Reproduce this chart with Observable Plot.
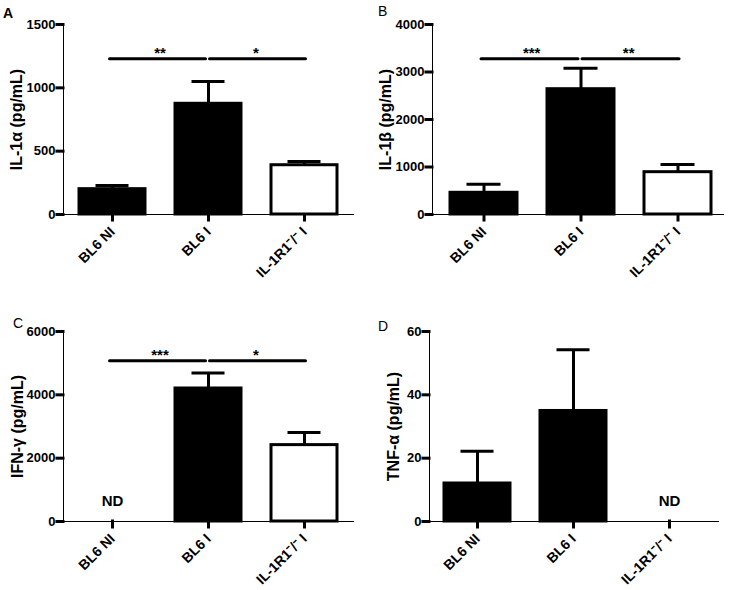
<!DOCTYPE html>
<html>
<head>
<meta charset="utf-8">
<script src="https://cdn.jsdelivr.net/npm/d3@7"></script>
<script src="https://cdn.jsdelivr.net/npm/@observablehq/plot@0.6"></script>
<style>
  body { margin: 0; background: #fff; }
  #fig { position: relative; width: 730px; height: 590px; font-family: "Liberation Sans", Arial, sans-serif; color: #000; }
  .panel { position: absolute; width: 365px; height: 295px; }
  .letter { position: absolute; font-size: 14px; line-height: 1; }
  .cy [aria-label^="x-axis"] line, .cy [aria-label^="x-axis"] path,
  .cy [aria-label^="y-axis"] line, .cy [aria-label^="y-axis"] path,
  .cy .domain, .cy .tick line { stroke-width: 3px; stroke: #000; stroke-linecap: square; }
  .cy g[aria-label^="y-axis"] text { font-size: 13px; font-weight: bold; }
  .cy g[aria-label^="x-axis"] text { font-size: 14px; font-weight: bold; }
</style>
</head>
<body>
<div id="fig"></div>
<script>
// ---- data ----
const groups = ["BL6 NI", "BL6 I", "IL-1R1\u207B/\u207B I"];
const groupFills = ["#000", "#000", "#fff"];

const il1aMean = [200, 874, 389];
const il1aErr = [29, 176, 29];
const il1aTicks = [0, 500, 1000, 1500];
const il1aSig = [{from: "BL6 NI", to: "BL6 I", label: "**"}, {from: "BL6 I", to: "IL-1R1\u207B/\u207B I", label: "*"}];
const il1aSigLevel = 1229;

const il1bMean = [457, 2638, 891];
const il1bErr = [181, 443, 162];
const il1bTicks = [0, 1000, 2000, 3000, 4000];
const il1bSig = [{from: "BL6 NI", to: "BL6 I", label: "***"}, {from: "BL6 I", to: "IL-1R1\u207B/\u207B I", label: "**"}];
const il1bSigLevel = 3277;

const ifngMean = [null, 4200, 2412];
const ifngErr = [null, 486, 398];
const ifngTicks = [0, 2000, 4000, 6000];
const ifngSig = [{from: "BL6 NI", to: "BL6 I", label: "***"}, {from: "BL6 I", to: "IL-1R1\u207B/\u207B I", label: "*"}];
const ifngSigLevel = 5074;
const ifngND = ["BL6 NI"];

const tnfaMean = [12.0, 34.9, null];
const tnfaErr = [10.2, 19.3, null];
const tnfaTicks = [0, 20, 40, 60];
const tnfaND = ["IL-1R1\u207B/\u207B I"];

// ---- panels ----
const panels = [
  {letter: "A", bold: true, left: 0, top: 0, lx: 3, ly: 6, mean: il1aMean, err: il1aErr, ticks: il1aTicks, sig: il1aSig, sigLevel: il1aSigLevel, nd: [],
   ylabel: "IL-1\u03B1 (pg/mL)", ml: 63, mr: 12, mt: 24, mb: 81, labelX: 16, align: 0.5},
  {letter: "B", bold: false, left: 365, top: 0, lx: 13, ly: 4, mean: il1bMean, err: il1bErr, ticks: il1bTicks, sig: il1bSig, sigLevel: il1bSigLevel, nd: [],
   ylabel: "IL-1\u03B2 (pg/mL)", ml: 67, mr: 7, mt: 24, mb: 81, labelX: 20, align: 0.6},
  {letter: "C", bold: false, left: 0, top: 295, lx: 13, ly: 21, mean: ifngMean, err: ifngErr, ticks: ifngTicks, sig: ifngSig, sigLevel: ifngSigLevel, nd: ifngND,
   ylabel: "IFN-\u03B3 (pg/mL)", ml: 63, mr: 12, mt: 36, mb: 69, labelX: 17, align: 0.5},
  {letter: "D", bold: false, left: 365, top: 295, lx: 13, ly: 24, mean: tnfaMean, err: tnfaErr, ticks: tnfaTicks, sig: [], sigLevel: 0, nd: tnfaND,
   ylabel: "TNF-\u03B1 (pg/mL)", ml: 64, mr: 12, mt: 36, mb: 69, labelX: 28, align: 0.5}
];

const W = 365, H = 295, PI = 0.31, PO = 0.15;
const fig = document.getElementById("fig");

for (const p of panels) {
  const data = groups.map((g, i) => ({g, mean: p.mean[i], err: p.err[i], fill: groupFills[i]})).filter(d => d.mean != null);
  const inner = W - p.ml - p.mr;
  const step = inner / (groups.length - PI + 2 * PO);
  const marks = [
    Plot.barY(data, {x: "g", y: "mean", fill: "fill", stroke: "#000", strokeWidth: 3}),
    Plot.ruleX(data, {x: "g", y1: "mean", y2: d => d.mean + d.err, stroke: "#000", strokeWidth: 3}),
    Plot.tickY(data, {x: "g", y: d => d.mean + d.err, stroke: "#000", strokeWidth: 3, insetLeft: 16.5, insetRight: 16.5}),
    Plot.text([p.ylabel], {frameAnchor: "left", textAnchor: "middle", rotate: -90, dx: p.labelX - p.ml, fontSize: 16, fontWeight: "bold", text: d => d})
  ];
  p.sig.forEach((s, k) => {
    marks.push(Plot.line([{g: s.from, v: p.sigLevel}, {g: s.to, v: p.sigLevel}], {x: "g", y: "v", stroke: "#000", strokeWidth: 3, dx: k === 0 ? -3 : 1}));
    marks.push(Plot.text([s], {x: "from", y: () => p.sigLevel, text: "label", dx: step / 2 - 1, dy: -1, lineAnchor: "bottom", fontSize: 15, fontWeight: "bold"}));
  });
  if (p.nd.length) {
    marks.push(Plot.text(p.nd, {x: d => d, y: () => 0, text: () => "ND", dy: -16, lineAnchor: "bottom", fontSize: 15, fontWeight: "bold"}));
  }
  const chart = Plot.plot({
    width: W, height: H,
    marginLeft: p.ml, marginRight: p.mr, marginTop: p.mt, marginBottom: p.mb,
    className: "cy",
    style: {fontFamily: "'Liberation Sans', Arial, sans-serif", fontSize: "13px", fontWeight: "bold", color: "#000", background: "#fff", overflow: "visible"},
    x: {domain: groups, paddingInner: PI, paddingOuter: PO, align: p.align, tickRotate: -45, tickSize: 6, tickPadding: 9, line: true, label: null},
    y: {domain: [0, p.ticks[p.ticks.length - 1]], ticks: p.ticks, tickFormat: d => String(d), tickSize: 6, tickPadding: 2, line: true, label: null},
    marks
  });
  const div = document.createElement("div");
  div.className = "panel";
  div.style.left = p.left + "px";
  div.style.top = p.top + "px";
  div.appendChild(chart);
  const letter = document.createElement("div");
  letter.className = "letter";
  letter.textContent = p.letter;
  letter.style.left = p.lx + "px";
  letter.style.top = p.ly + "px";
  letter.style.fontWeight = p.bold ? "bold" : "normal";
  div.appendChild(letter);
  fig.appendChild(div);
}
</script>
</body>
</html>
